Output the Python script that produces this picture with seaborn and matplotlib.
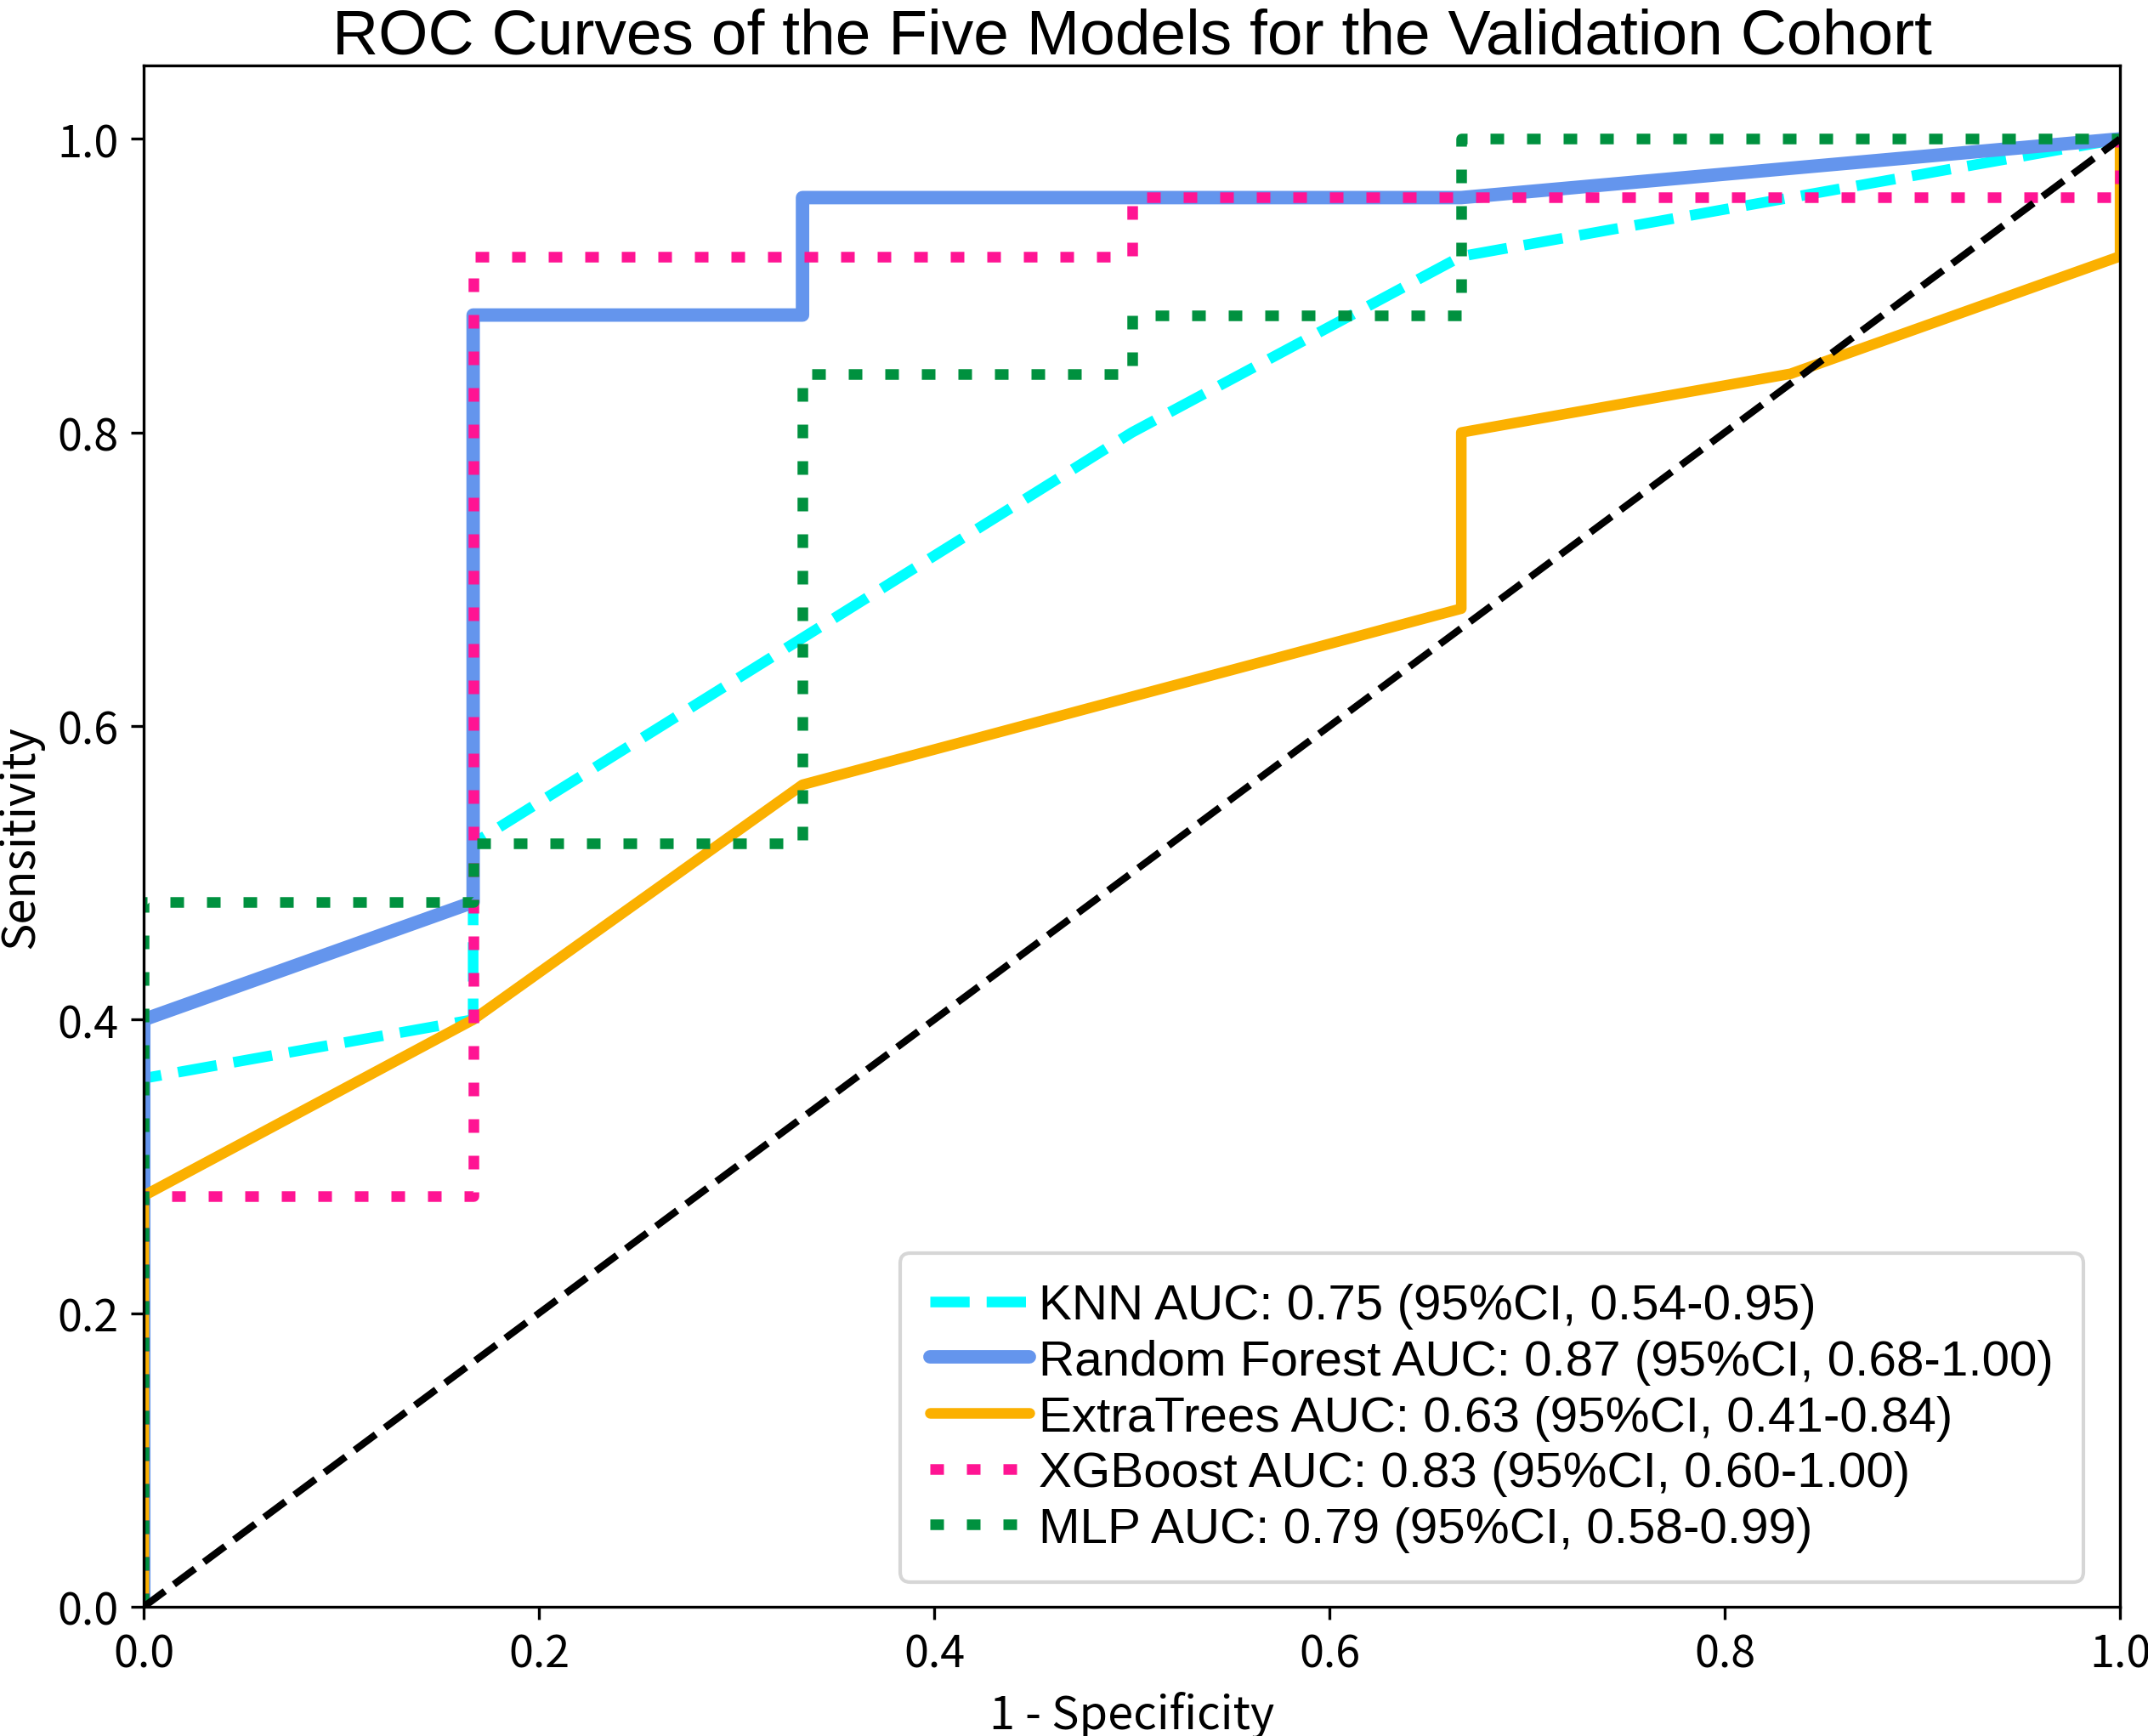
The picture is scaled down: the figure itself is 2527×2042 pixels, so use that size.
import matplotlib
matplotlib.use("Agg")
import matplotlib.pyplot as plt
import seaborn as sns
import pandas as pd

# ---- data ----
knn_fpr = [0, 0, 1/6, 1/6, 2/6, 3/6, 4/6, 1]
knn_tpr = [0, 0.36, 0.40, 0.52, 0.66, 0.80, 0.92, 1.00]

rf_fpr = [0, 0, 1/6, 1/6, 2/6, 2/6, 4/6, 1]
rf_tpr = [0, 0.40, 0.48, 0.88, 0.88, 0.96, 0.96, 1.00]

et_fpr = [0, 0, 1/6, 2/6, 4/6, 4/6, 5/6, 1, 1]
et_tpr = [0, 0.28, 0.40, 0.56, 0.68, 0.80, 0.84, 0.92, 1.00]

xgb_fpr = [0, 0, 1/6, 1/6, 3/6, 3/6, 1, 1]
xgb_tpr = [0, 0.28, 0.28, 0.92, 0.92, 0.96, 0.96, 1.00]

mlp_fpr = [0, 0, 1/6, 1/6, 2/6, 2/6, 3/6, 3/6, 4/6, 4/6, 1]
mlp_tpr = [0, 0.48, 0.48, 0.52, 0.52, 0.84, 0.84, 0.88, 0.88, 1.00, 1.00]

labels = [
    "KNN AUC: 0.75 (95%CI, 0.54-0.95)",
    "Random Forest AUC: 0.87 (95%CI, 0.68-1.00)",
    "ExtraTrees AUC: 0.63 (95%CI, 0.41-0.84)",
    "XGBoost AUC: 0.83 (95%CI, 0.60-1.00)",
    "MLP AUC: 0.79 (95%CI, 0.58-0.99)",
]
colors = ["#00FFFF", "#6495ED", "#FBB000", "#FF1493", "#00913F"]
title = "ROC Curves of the Five Models for the Validation Cohort"
xlabel = "1 - Specificity"
ylabel = "Sensitivity"

# ---- plot ----
sns.set_theme(style="ticks")
plt.rcParams["font.family"] = ["Noto Sans CJK SC", "DejaVu Sans"]
plt.rcParams["axes.edgecolor"] = "black"
plt.rcParams["xtick.color"] = "black"
plt.rcParams["ytick.color"] = "black"
plt.rcParams["text.color"] = "black"
plt.rcParams["axes.labelcolor"] = "black"

fig = plt.figure(figsize=(2528/300, 2043/300), dpi=300)
ax = fig.add_axes([0.0669, 0.0744, 0.9866 - 0.0669, 0.9618 - 0.0744])

series = [(knn_fpr, knn_tpr), (rf_fpr, rf_tpr), (et_fpr, et_tpr),
          (xgb_fpr, xgb_tpr), (mlp_fpr, mlp_tpr)]
styles = [
    dict(lw=3.0, linestyle=(0, (3.7, 1.6))),
    dict(lw=3.8, linestyle="-"),
    dict(lw=3.0, linestyle="-"),
    dict(lw=3.0, linestyle=(0, (1.28, 2.16))),
    dict(lw=3.0, linestyle=(0, (1.28, 2.16))),
]
for (fx, ty), lab, c, st in zip(series, labels, colors, styles):
    df = pd.DataFrame({"fpr": fx, "tpr": ty})
    sns.lineplot(data=df, x="fpr", y="tpr", sort=False, estimator=None,
                 color=c, label=lab, ax=ax, **st)

diag = pd.DataFrame({"fpr": [0, 1], "tpr": [0, 1]})
sns.lineplot(data=diag, x="fpr", y="tpr", sort=False, estimator=None,
             color="black", lw=2.0, linestyle=(0, (3.7, 1.6)), ax=ax)

ax.set_xlim(0, 1)
ax.set_ylim(0, 1.05)
ax.set_xticks([0, 0.2, 0.4, 0.6, 0.8, 1.0])
ax.set_yticks([0, 0.2, 0.4, 0.6, 0.8, 1.0])
ax.tick_params(labelsize=12.5, length=3.5, width=0.8, colors="black")
for s in ax.spines.values():
    s.set_linewidth(0.8)
    s.set_color("black")

ax.set_xlabel(xlabel, fontsize=13, labelpad=4)
ax.set_ylabel(ylabel, fontsize=13, labelpad=4)
ax.set_title(title, fontsize=18, color="black",
             family=["Liberation Sans", "DejaVu Sans"], pad=1.5)

leg = ax.legend(loc="lower right", bbox_to_anchor=(0.994, 0.0),
                prop={"family": ["Liberation Sans", "DejaVu Sans"], "size": 14},
                borderaxespad=0.5, handlelength=2.0, handletextpad=0.2,
                borderpad=0.6, labelspacing=0.2)
for t in leg.get_texts():
    t.set_color("black")

fig.savefig("out.png", dpi=300)
